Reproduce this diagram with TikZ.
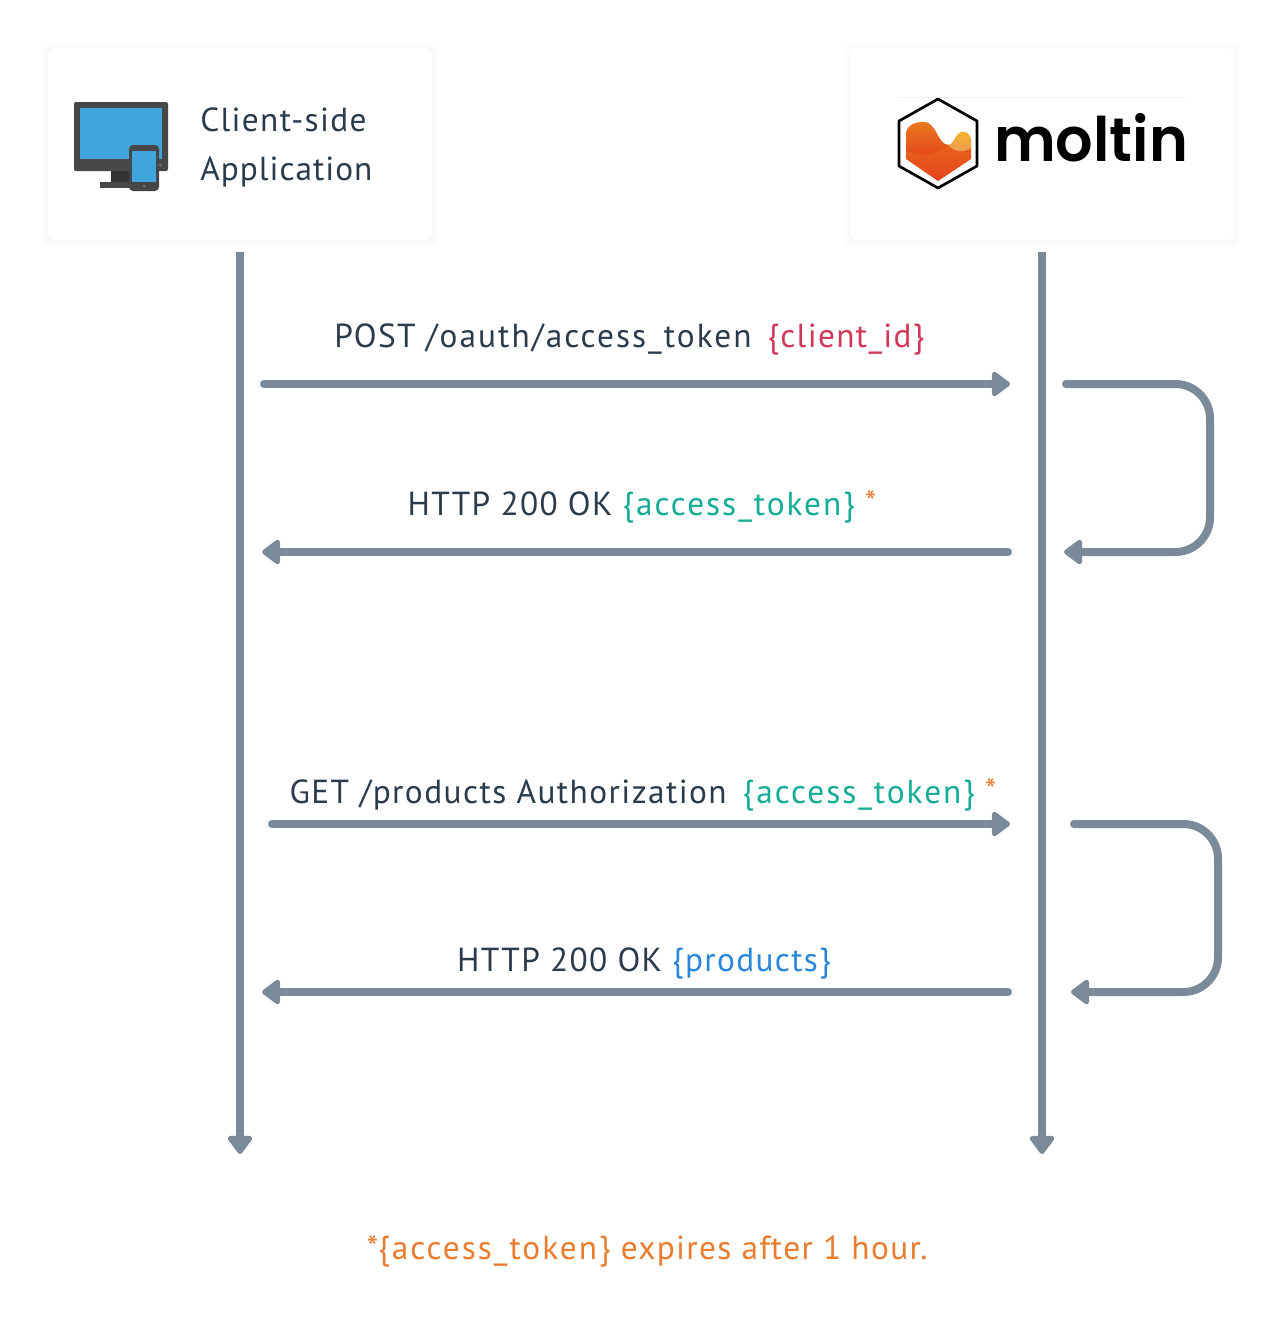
\documentclass[tikz,border=0pt]{standalone}
\usepackage{fontspec}
\setmainfont{PT Sans}[LetterSpace=4]
\newfontfamily\logofont{Poppins}[UprightFont=* SemiBold,FakeStretch=0.96]
\usepackage{xcolor}
\usetikzlibrary{arrows.meta}
\definecolor{lineGrey}{HTML}{7A8A99}
\definecolor{textDark}{HTML}{2A3B4C}
\definecolor{idRed}{HTML}{D2385A}
\definecolor{tokenGreen}{HTML}{14AC94}
\definecolor{prodBlue}{HTML}{2A86D8}
\definecolor{noteOrange}{HTML}{E97C2E}
\definecolor{screenBlue}{HTML}{41A5DD}
\definecolor{caseGrey}{HTML}{474747}
\definecolor{logoOrange}{HTML}{E9781E}
\definecolor{logoRed}{HTML}{E6421A}
\definecolor{logoYellow}{HTML}{F6B426}
\definecolor{logoPale}{HTML}{E9985E}
\newcommand{\tokenText}{{\addfontfeature{LetterSpace=6}\{access\_token\}}}
\newcommand{\starMark}{\textcolor{noteOrange}{\raisebox{1pt}{\fontsize{24}{24}\selectfont*}}}
\tikzset{
	card/.style={fill=white,rounded corners=4.5pt,minimum width=288pt,minimum height=144pt},
	msg/.style={inner sep=0,anchor=base,text=textDark,font=\fontsize{25}{29}\selectfont},
	side/.style={inner sep=0,anchor=base west,text=textDark,font=\fontsize{25}{29}\selectfont},
	lifeline/.style={line width=6pt,lineGrey,-{Triangle[round,length=15pt,width=21pt]}},
	flow/.style={line width=6pt,lineGrey,line cap=round,rounded corners=26pt,-{Triangle[round,length=15pt,width=21pt]}},
}
\begin{document}
\begin{tikzpicture}[x=0.75pt,y=-0.75pt]
	\useasboundingbox (0,0) rectangle (1282,1320);
	\fill[white] (0,0) rectangle (1282,1320);
	% soft shadows under the boxes
	\foreach \s in {1,...,7} {
		\fill[black,opacity=0.003,rounded corners=6pt] (48-\s,48-\s+2) rectangle (432+\s,240+\s+2);
		\fill[black,opacity=0.003,rounded corners=6pt] (850-\s,48-\s+2) rectangle (1234+\s,240+\s+2);
	}
	\node[card] (client) at (240,144) {};		% left box
	\node[card] (moltin) at (1042,144) {};		% right box
	
	% device icon
	\fill[caseGrey,rounded corners=1.5pt] (74,102) rectangle (168,171);
	\fill[screenBlue] (80,108) rectangle (162,159);
	\fill[black!55] (160,165) circle (1.5);
	\fill[black!80] (111,171) rectangle (130,182);
	\fill[caseGrey] (100,182) rectangle (132,188);
	\fill[caseGrey,rounded corners=3pt] (129,145) rectangle (159,191);
	\fill[screenBlue] (132,151) rectangle (156,182);
	\fill[black!55] (144,186) circle (1.5);
	\node[side] (side) at (200,131) {Client-side};
	\node[side] (app) at (200,180) {\addfontfeature{LetterSpace=3}Application};
	
	% logo
	\draw[black!6,line width=0.5pt] (898,97) -- (1186,97);
	\draw[black,line width=2pt,line join=round] (938,99) -- (977,121) -- (977,166) -- (938,188) -- (899,166) -- (899,121) -- cycle;
	\shade[top color=logoOrange,bottom color=logoRed]
		(906,135) .. controls (906,126) and (914,122) .. (924,122) .. controls (936,122) and (938,145) .. (948,145) .. controls (955,145) and (955,132) .. (963,132) .. controls (968,132) and (971,136) .. (971,141)
		-- (971,159) -- (938,181) -- (906,159) -- cycle;
	\shade[top color=logoYellow,bottom color=logoPale]
		(948,145) .. controls (955,145) and (955,132) .. (963,132) .. controls (968,132) and (971,136) .. (971,141) -- (971,148) .. controls (962,154) and (954,151) .. (948,145) -- cycle;
	\shade[top color=logoOrange,bottom color=logoRed]
		(906,135) .. controls (906,126) and (914,122) .. (924,122) .. controls (936,122) and (938,145) .. (948,145) .. controls (940,152) and (925,160) .. (906,150) -- cycle;
	\node[inner sep=0,anchor=base west,text=black,font=\logofont\fontsize{46}{46}\selectfont] (logo) at (994,161) {moltin};
	
	% lifelines
	\coordinate (client-top) at (240,252);
	\coordinate (client-end) at (240,1154);
	\coordinate (moltin-top) at (1042,252);
	\coordinate (moltin-end) at (1042,1154);
	\draw[lifeline] (client-top) -- (client-end);
	\draw[lifeline] (moltin-top) -- (moltin-end);
	
	% first exchange
	\coordinate (post-a) at (264,384);
	\coordinate (post-b) at (1010,384);
	\coordinate (ok-a) at (1008,552);
	\coordinate (ok-b) at (262,552);
	\coordinate (loop-a) at (1066,384);
	\coordinate (loop-b) at (1064,552);
	\draw[flow] (post-a) -- (post-b);
	\draw[flow] (ok-a) -- (ok-b);
	\draw[flow] (loop-a) -- (1210,384) -- (1210,552) -- (loop-b);
	\node[msg] (post-label) at (629.5,347) {POST {\addfontfeature{LetterSpace=6.2}/oauth/access\_token}\hspace{12pt}\textcolor{idRed}{\{client\_id\}}};
	\node[msg] (ok-label) at (642,515) {HTTP 200 OK \textcolor{tokenGreen}{\tokenText} \starMark};
	
	% second exchange
	\coordinate (get-a) at (272,824);
	\coordinate (get-b) at (1010,824);
	\coordinate (prod-a) at (1008,992);
	\coordinate (prod-b) at (262,992);
	\coordinate (back-a) at (1074,824);
	\coordinate (back-b) at (1071,992);
	\draw[flow] (get-a) -- (get-b);
	\draw[flow] (prod-a) -- (prod-b);
	\draw[flow] (back-a) -- (1218,824) -- (1218,992) -- (back-b);
	\node[msg] (get-label) at (643,803) {{\addfontfeature{LetterSpace=4.3}GET /products Authorization}\hspace{12pt}\textcolor{tokenGreen}{\tokenText} \starMark};
	\node[msg] (prod-label) at (644,971) {HTTP 200 OK \textcolor{prodBlue}{\{products\}}};
	
	% footnote
	\node[msg,text=noteOrange] (note) at (647,1259) {*\tokenText{} expires after 1 hour.};
\end{tikzpicture}
\end{document}
